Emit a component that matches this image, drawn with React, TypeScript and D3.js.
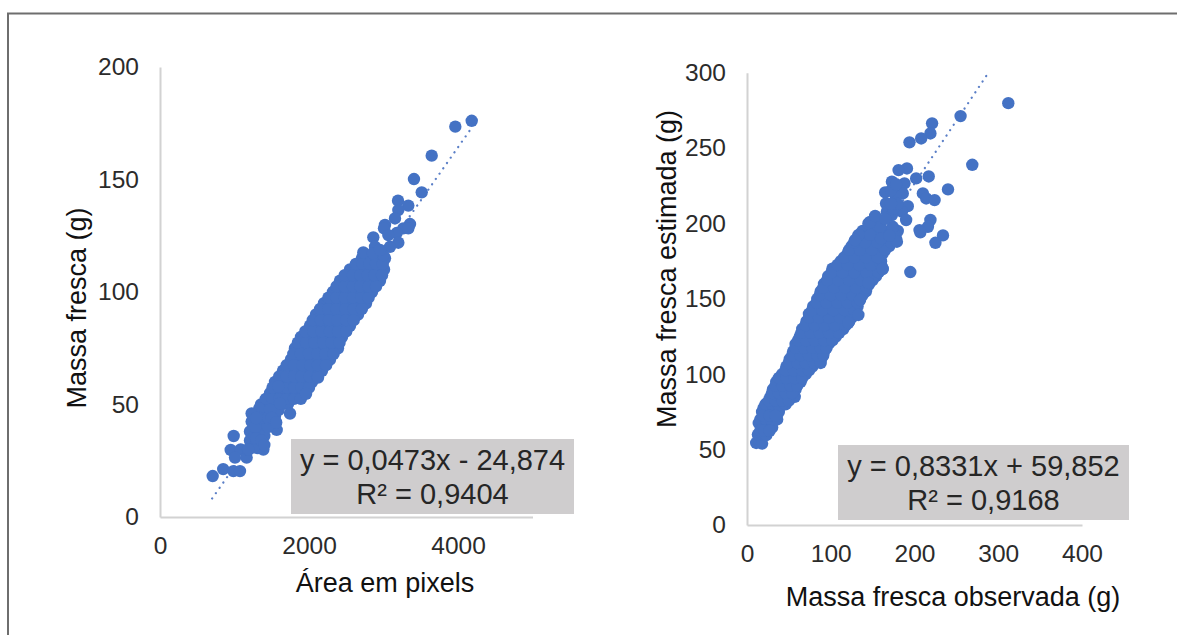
import React, { useEffect, useRef } from "react";
import * as d3 from "d3";

type Pt = [number, number];

const leftOutliers: Pt[] = [
  [707, 18.2], [848, 21.3], [985, 20.4], [1074, 20.4], [989, 36], [949, 29.8], [1083, 30], [1007, 26.4],
  [1163, 26.4], [1387, 30], [1230, 42.4], [1208, 38], [1208, 34], [1315, 30.6], [1566, 38.7], [1333, 48.3],
  [1409, 43], [1477, 47.6], [1745, 46], [1611, 50.5], [1588, 58], [1960, 54.7], [2121, 62],
  [1270, 36], [1330, 40], [1400, 36], [1450, 40], [1260, 31], [1180, 30],
  [1230, 46], [1280, 40], [1350, 44], [1450, 44], [1500, 44], [1560, 42], [1290, 44], [1190, 30], [1290, 35], [1360, 34], [1400, 32],
  [4184, 176.1], [3964, 173.5], [3647, 160.6], [3409, 150.2], [3513, 144.3], [3195, 140.6], [3333, 138.4],
  [3199, 136.4], [3154, 132.7], [3356, 130.2], [3020, 129.8], [3007, 128.3], [3266, 128.3], [3333, 128.3],
  [3177, 126.2], [3065, 125.3], [2863, 124.3], [3199, 121.9], [3087, 120.1], [2886, 120.1], [2729, 117.6],
  [2997, 116.4], [2859, 117.3], [2953, 118.7]
];

const leftCloud: Pt[] = [
  [1302, 45], [1380, 45.4], [1460, 44.6], [1544, 45], [1356, 50], [1450, 50.3], [1540, 49.6], [1630, 50], [1718, 50.2],
  [1477, 55], [1570, 55.2], [1670, 54.6], [1770, 55], [1860, 55.3], [1544, 60], [1640, 60.2], [1740, 59.7], [1840, 60],
  [1950, 60.3], [2040, 60], [1651, 65], [1750, 65.3], [1850, 64.7], [1960, 65], [2070, 65.2], [2174, 65],
  [1758, 70], [1860, 70.2], [1970, 69.7], [2070, 70], [2180, 70.3], [2282, 70], [1812, 75], [1920, 75.2], [2030, 74.7],
  [2150, 75], [2270, 75.3], [2389, 75], [1893, 80], [2000, 80.2], [2110, 79.7], [2220, 80], [2330, 80.3], [2443, 80],
  [2013, 85], [2120, 85.3], [2230, 84.7], [2340, 85], [2450, 85.2], [2550, 85], [2094, 90], [2200, 90.2], [2320, 89.7],
  [2430, 90], [2550, 90.3], [2658, 90], [2201, 95], [2310, 95.3], [2420, 94.7], [2540, 95], [2650, 95.2], [2765, 95],
  [2322, 100], [2430, 100.2], [2530, 99.7], [2640, 100], [2750, 100.3], [2846, 100], [2416, 105], [2520, 105.3],
  [2630, 104.7], [2740, 105], [2850, 105.2], [2953, 105], [2550, 110], [2640, 110.2], [2740, 109.7], [2830, 110],
  [2920, 110.3], [3007, 110], [2711, 115], [2800, 115.2], [2900, 114.7], [3020, 115]
];

const leftFill: Pt[] = [
  [1340, 47.5], [1420, 47.5], [1500, 47.5], [1590, 47.5], [1420, 52.5], [1510, 52.5], [1600, 52.5], [1700, 52.5], [1800, 52.5],
  [1890, 52.5], [1510, 57.5], [1610, 57.5], [1710, 57.5], [1800, 57.5], [1900, 57.5], [2000, 57.5], [1600, 62.5], [1700, 62.5],
  [1800, 62.5], [1900, 62.5], [2010, 62.5], [2110, 62.5], [1700, 67.5], [1800, 67.5], [1910, 67.5], [2020, 67.5], [2120, 67.5],
  [2230, 67.5], [1790, 72.5], [1890, 72.5], [2000, 72.5], [2110, 72.5], [2220, 72.5], [2330, 72.5], [1850, 77.5], [1960, 77.5],
  [2070, 77.5], [2190, 77.5], [2300, 77.5], [2410, 77.5], [1950, 82.5], [2060, 82.5], [2170, 82.5], [2280, 82.5], [2390, 82.5],
  [2500, 82.5], [2050, 87.5], [2160, 87.5], [2270, 87.5], [2380, 87.5], [2500, 87.5], [2600, 87.5], [2150, 92.5], [2260, 92.5],
  [2370, 92.5], [2490, 92.5], [2600, 92.5], [2710, 92.5], [2260, 97.5], [2370, 97.5], [2480, 97.5], [2590, 97.5], [2700, 97.5],
  [2800, 97.5], [2370, 102.5], [2480, 102.5], [2590, 102.5], [2690, 102.5], [2800, 102.5], [2900, 102.5], [2480, 107.5],
  [2590, 107.5], [2690, 107.5], [2790, 107.5], [2880, 107.5], [2980, 107.5], [2630, 112.5], [2720, 112.5], [2810, 112.5],
  [2900, 112.5], [2990, 112.5]
];

const rightOutliers: Pt[] = [
  [312, 279.8], [255, 271.2], [221, 266.4], [219, 259.7], [208, 256.4], [194, 253.8], [269, 238.9], [191, 236.5],
  [181, 235.4], [217, 231.2], [202, 229.9], [240, 222.6], [173, 227.7], [188, 226.6], [165, 220.6], [210, 219.9],
  [186, 219.9], [177, 218.8], [214, 216.6], [224, 215.5], [192, 211.5], [166, 213.3], [185, 207.8], [167, 207.8],
  [173, 205.6], [190, 202.3], [219, 202.3], [155, 202.3], [145, 200], [216, 197.8], [206, 195.6], [174, 197.8],
  [159, 197.8], [234, 192.1], [225, 187.2], [207, 194.1], [195, 167.8], [179, 187.9], [162, 169.8], [145, 160.5],
  [133, 139.3], [121, 134], [135, 149.2], [133, 192.3], [129, 189],
  [147, 201], [153, 205], [165, 203], [160, 190], [170, 192], [175, 210], [180, 213], [172, 222], [178, 226], [172, 213]
];

const rightCloud: Pt[] = [
  [11, 54.4], [15, 55], [18, 54], [13, 60], [18, 60.2], [23, 59.6], [14, 67.6], [20, 65.2], [26, 65], [30, 64.7],
  [16, 70], [22, 70.3], [29, 69.7], [36, 70], [18, 75], [25, 75.3], [32, 74.7], [38, 75], [20, 77.6], [22, 80], [30, 80.2],
  [38, 79.7], [46, 80], [28, 85], [36, 85.3], [44, 84.7], [51, 85], [57, 85], [31, 90], [39, 90.2], [47, 89.7], [58, 90],
  [35, 95], [44, 95.3], [54, 94.7], [64, 95], [42, 100], [51, 100.2], [60, 99.7], [70, 100], [47, 105], [57, 105.3],
  [67, 104.7], [78, 105], [51, 110], [61, 110.2], [71, 109.7], [80, 110], [89, 110.7], [55, 115], [65, 115.3], [75, 114.7],
  [85, 115], [92, 115], [58, 120], [68, 120.2], [78, 119.7], [88, 120], [98, 120.5], [63, 125], [73, 125.3], [84, 124.7],
  [95, 125], [106, 125], [66, 130], [77, 130.2], [88, 129.7], [101, 130], [115, 130], [71, 135], [83, 135.3], [96, 134.7],
  [109, 135], [122, 135], [74, 140], [88, 140.2], [102, 139.7], [116, 140], [130, 140], [79, 145], [92, 145.3], [105, 144.7],
  [118, 145], [132, 145], [84, 150], [96, 150.2], [110, 149.7], [122, 150], [135, 150], [88, 155], [101, 155.3], [115, 154.7],
  [128, 155], [142, 155], [92, 160], [105, 160.2], [118, 159.7], [132, 160], [146, 160], [97, 165], [110, 165.3], [125, 164.7],
  [140, 165], [154, 165], [102, 170], [116, 170.2], [131, 169.7], [146, 170], [162, 170], [112, 175], [124, 175.3], [138, 174.7],
  [150, 175], [160, 175], [120, 180], [132, 180.2], [146, 179.7], [162, 180], [125, 185], [138, 185.3], [152, 184.7], [170, 185],
  [132, 190], [145, 190.3], [160, 189.7], [178, 190], [138, 195], [150, 195.3], [165, 194.7], [180, 195]
];

const rightFill: Pt[] = [
  [16, 62.5], [21, 62.5], [27, 62.5], [19, 72.5], [27, 72.5], [34, 72.5], [26, 82.5], [34, 82.5], [42, 82.5], [50, 82.5],
  [30, 87.5], [38, 87.5], [46, 87.5], [54, 87.5], [34, 92.5], [42, 92.5], [52, 92.5], [60, 92.5], [38, 97.5], [47, 97.5],
  [57, 97.5], [66, 97.5], [46, 102.5], [56, 102.5], [66, 102.5], [74, 102.5], [50, 107.5], [60, 107.5], [70, 107.5], [80, 107.5],
  [88, 107.5], [54, 112.5], [64, 112.5], [74, 112.5], [84, 112.5], [91, 112.5], [58, 117.5], [68, 117.5], [78, 117.5], [88, 117.5],
  [95, 117.5], [61, 122.5], [71, 122.5], [81, 122.5], [92, 122.5], [102, 122.5], [65, 127.5], [76, 127.5], [87, 127.5], [98, 127.5],
  [110, 127.5], [70, 132.5], [81, 132.5], [93, 132.5], [105, 132.5], [118, 132.5], [74, 137.5], [86, 137.5], [98, 137.5], [111, 137.5],
  [125, 137.5], [78, 142.5], [90, 142.5], [103, 142.5], [116, 142.5], [128, 142.5], [83, 147.5], [95, 147.5], [108, 147.5], [120, 147.5],
  [132, 147.5], [87, 152.5], [100, 152.5], [113, 152.5], [126, 152.5], [138, 152.5], [91, 157.5], [104, 157.5], [117, 157.5], [130, 157.5],
  [143, 157.5], [96, 162.5], [109, 162.5], [122, 162.5], [136, 162.5], [150, 162.5], [101, 167.5], [114, 167.5], [128, 167.5], [143, 167.5],
  [157, 167.5], [108, 172.5], [120, 172.5], [134, 172.5], [148, 172.5], [160, 172.5], [116, 177.5], [128, 177.5], [142, 177.5], [156, 177.5],
  [122, 182.5], [135, 182.5], [149, 182.5], [165, 182.5], [128, 187.5], [141, 187.5], [156, 187.5], [172, 187.5], [134, 192.5], [147, 192.5],
  [162, 192.5], [176, 192.5]
];

const leftXTicks = [0, 2000, 4000];
const leftYTicks = [0, 50, 100, 150, 200];
const rightXTicks = [0, 100, 200, 300, 400];
const rightYTicks = [0, 50, 100, 150, 200, 250, 300];

const blue = "#4472c4";

function drawPanel(svg: any, o: any) {
  const x = d3.scaleLinear().domain(o.xDomain).range([o.x0, o.x1]);
  const y = d3.scaleLinear().domain(o.yDomain).range([o.y0, o.y1]);
  const font = "'Liberation Sans', Arial, sans-serif";

  const yAxis = svg.append("g").attr("transform", `translate(${o.x0},0)`)
    .call(d3.axisLeft(y).tickValues(o.yTicks).tickSize(0).tickPadding(o.yPad).tickFormat(d3.format("d")));
  const xAxis = svg.append("g").attr("transform", `translate(0,${o.y0})`)
    .call(d3.axisBottom(x).tickValues(o.xTicks).tickSize(0).tickPadding(o.xPad).tickFormat(d3.format("d")));
  [xAxis, yAxis].forEach(a => {
    a.select(".domain").attr("stroke", "#d2d2d2").attr("stroke-width", 2);
    a.selectAll("text").attr("font-family", font).attr("font-size", 24.5).attr("fill", "#2b2b2b");
  });

  // trendline goes under the points
  const trend = d3.line<number>().x(d => x(d)).y(d => y(o.slope * d + o.intercept));
  svg.append("path")
    .attr("d", trend(o.trendRange))
    .attr("fill", "none")
    .attr("stroke", "#5b7fc7")
    .attr("stroke-width", 2.2)
    .attr("stroke-linecap", "round")
    .attr("stroke-dasharray", "0.1 6.4");

  svg.append("g").selectAll("circle")
    .data(o.points)
    .join("circle")
    .attr("cx", (d: Pt) => x(d[0]))
    .attr("cy", (d: Pt) => y(d[1]))
    .attr("r", 6.2)
    .attr("fill", blue);

  svg.append("rect")
    .attr("x", o.box[0]).attr("y", o.box[1])
    .attr("width", o.box[2]).attr("height", o.box[3])
    .attr("fill", "#cfcdce");
  const cx = o.box[0] + o.box[2] / 2;
  [o.eq, o.r2].forEach((t: string, i: number) => {
    svg.append("text")
      .attr("x", cx)
      .attr("y", o.box[1] + (i === 0 ? 31 : 65))
      .attr("text-anchor", "middle")
      .attr("font-family", font)
      .attr("font-size", 29)
      .attr("fill", "#262626")
      .text(t);
  });

  svg.append("text")
    .attr("x", o.xTitle[0]).attr("y", o.xTitle[1])
    .attr("text-anchor", "middle")
    .attr("font-family", font).attr("font-size", 27).attr("fill", "#111")
    .text(o.xLabel);
  svg.append("text")
    .attr("transform", `translate(${o.yTitle[0]},${o.yTitle[1]}) rotate(-90)`)
    .attr("text-anchor", "middle")
    .attr("font-family", font).attr("font-size", 27).attr("fill", "#111")
    .text(o.yLabel);
}

export default function App() {
  const ref = useRef<SVGSVGElement>(null);

  useEffect(() => {
    const svg = d3.select(ref.current).html("");

    // frame: only the top and left edges show in the picture
    svg.append("path")
      .attr("d", "M8,635V13.5H1177")
      .attr("fill", "none")
      .attr("stroke", "#6e6e6e")
      .attr("stroke-width", 2);

    drawPanel(svg, {
      xDomain: [0, 5000], yDomain: [0, 200],
      x0: 160, x1: 532.5, y0: 517, y1: 67,
      xTicks: leftXTicks, yTicks: leftYTicks,
      xPad: 20, yPad: 21,
      points: [...leftCloud, ...leftFill, ...leftOutliers],
      slope: 0.0473, intercept: -24.874, trendRange: [700, 4200],
      box: [291, 439, 283, 75],
      eq: "y = 0,0473x - 24,874", r2: "R² = 0,9404",
      xLabel: "Área em pixels", yLabel: "Massa fresca (g)",
      xTitle: [385, 592], yTitle: [86, 308]
    });

    drawPanel(svg, {
      xDomain: [0, 400], yDomain: [0, 300],
      x0: 747, x1: 1082, y0: 525, y1: 72.7,
      xTicks: rightXTicks, yTicks: rightYTicks,
      xPad: 20, yPad: 21,
      points: [...rightCloud, ...rightFill, ...rightOutliers],
      slope: 0.8331, intercept: 59.852, trendRange: [10, 288],
      box: [838, 445, 291, 75],
      eq: "y = 0,8331x + 59,852", r2: "R² = 0,9168",
      xLabel: "Massa fresca observada (g)", yLabel: "Massa fresca estimada (g)",
      xTitle: [953, 606], yTitle: [676, 269]
    });
  }, []);

  return <svg ref={ref} width={1177} height={635} style={{ position: "absolute", left: 0, top: 0, background: "#fff" }} />;
}
